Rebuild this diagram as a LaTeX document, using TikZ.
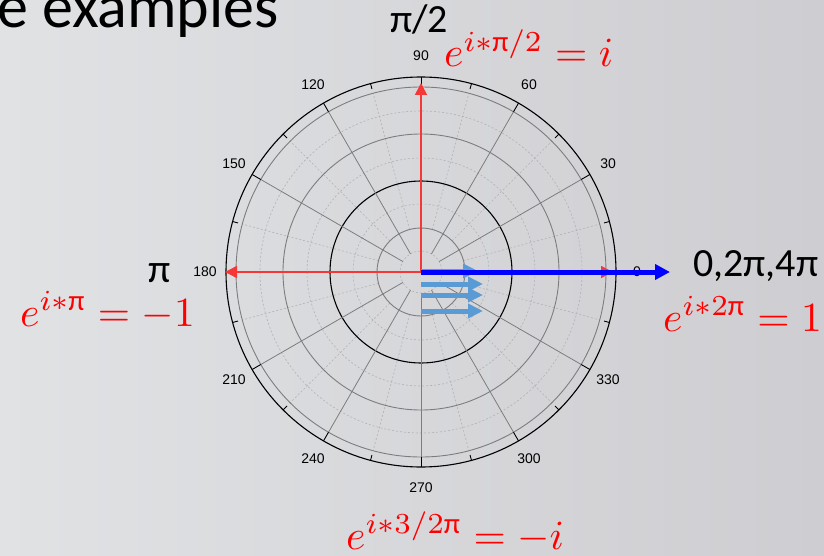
\documentclass[tikz,border=0pt]{standalone}
\usepackage{amsmath}
\usepackage{graphicx}
\usepackage{fontspec}
\setmainfont{Carlito}
\newfontfamily\arialf{Liberation Sans}
\usetikzlibrary{arrows.meta}
\definecolor{bgL}{RGB}{224,226,228}
\definecolor{bgR}{RGB}{206,205,209}
\definecolor{ringgray}{RGB}{125,125,125}
\definecolor{dashgray}{RGB}{178,178,178}
\definecolor{redline}{RGB}{245,55,55}
\definecolor{lightblue}{RGB}{91,155,213}
\tikzset{
  ring/.style={draw=ringgray, line width=0.9pt},
  blackring/.style={draw=black, line width=1.1pt},
  minorring/.style={draw=dashgray, line width=0.6pt, dash pattern=on 2pt off 2pt},
  spoke/.style={draw=ringgray, line width=0.8pt},
  minorspoke/.style={draw=dashgray, line width=0.6pt, dash pattern=on 2pt off 2pt},
  tickmark/.style={draw=black, line width=0.9pt},
  anglab/.style={font=\arialf\fontsize{14}{16}\selectfont, inner sep=0pt},
  redarrow/.style={draw=redline, line width=1.5pt, -{Triangle[length=12pt,width=12pt]}},
  lbarrow/.style={draw=lightblue, line width=5pt, -{Triangle[length=15pt,width=14pt]}},
  dbarrow/.style={draw=blue, line width=5pt, -{Triangle[length=15pt,width=15pt]}},
  formula/.style={text=red, font=\fontsize{10}{12}\selectfont, inner sep=0pt, anchor=base west},
  bigtxt/.style={text=black, font=\fontsize{40}{48}\selectfont, inner sep=0pt},
}
\newcommand{\bigmath}[1]{\scalebox{4.15}{$#1$}}
\begin{document}
\begin{tikzpicture}[x=1pt,y=-1pt]
\useasboundingbox (0,0) rectangle (824,556);
\shade[left color=bgL, right color=bgR] (0,0) rectangle (824,556);

\node[font=\fontsize{62}{72}\selectfont, inner sep=0pt, anchor=base west] (title) at (-3,28) {e examples};

\begin{scope}[shift={(421,272)}]
  \coordinate (O) at (0,0);
  % minor dashed rings
  \foreach \r in {21,68,114,161} \draw[minorring] (O) circle[radius=\r];
  % minor dashed spokes
  \foreach \a in {15,45,...,345} \draw[minorspoke] (-\a:44) -- (-\a:185);
  % solid rings
  \foreach \r in {44,138,185} \draw[ring] (O) circle[radius=\r];
  \draw[blackring] (O) circle[radius=91];
  % solid spokes
  \foreach \a in {0,30,...,330} \draw[spoke] (-\a:21) -- (-\a:185);
  % outer circle and ticks
  \draw[blackring] (O) circle[radius=195];
  \foreach \a in {0,30,...,330} \draw[tickmark] (-\a:185) -- (-\a:195);
  \foreach \a in {15,45,...,345} \draw[tickmark] (-\a:189.5) -- (-\a:195);
  % angle labels
  \foreach \a in {0,30,...,330} \node[anglab] (l\a) at (-\a:216) {\a};

  % red arrows
  \coordinate (rU) at (0,-189);
  \coordinate (rL) at (-196,0);
  \coordinate (rR) at (192,0);
  \draw[redarrow] (O) -- (rU);
  \draw[redarrow] (O) -- (rL);
  \draw[redarrow] (O) -- (rR);

  % light blue arrows
  \coordinate (b0s) at (0,-1);  \coordinate (b0e) at (57,-1);
  \coordinate (b1s) at (0,12);  \coordinate (b1e) at (62,12);
  \coordinate (b2s) at (0,23);  \coordinate (b2e) at (62,23);
  \coordinate (b3s) at (0,39);  \coordinate (b3e) at (62,39);
  \draw[lbarrow] (b0s) -- (b0e);
  \draw[lbarrow] (b1s) -- (b1e);
  \draw[lbarrow] (b2s) -- (b2e);
  \draw[lbarrow] (b3s) -- (b3e);

  % dark blue arrow
  \coordinate (dbs) at (0,0);
  \coordinate (dbe) at (249,0);
  \draw[dbarrow] (dbs) -- (dbe);
\end{scope}

% black labels
\node[bigtxt, anchor=base west] (pihalf) at (390,33) {π/2};
\node[bigtxt, anchor=base] (pi) at (160,282) {π};
\node[bigtxt, anchor=base west] (zero) at (693,276) {0,2π,4π};

% red formulas
\node[formula] (f90) at (444,67) {\bigmath{e^{i\ast\text{π}/2} = i}};
\node[formula] (f180) at (20,326) {\bigmath{e^{i\ast\text{π}} = -1}};
\node[formula] (f0) at (663,331) {\bigmath{e^{i\ast2\text{π}} = 1}};
\node[formula] (f270) at (346,549) {\bigmath{e^{i\ast3/2\text{π}} = -i}};
\end{tikzpicture}
\end{document}
